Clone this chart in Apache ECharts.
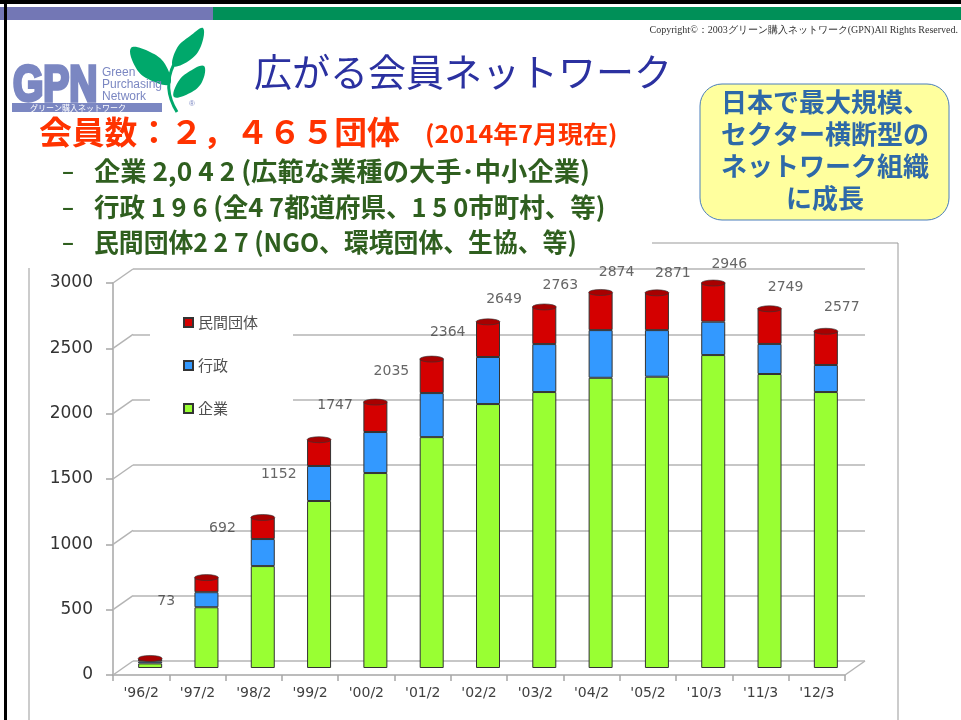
<!DOCTYPE html>
<html>
<head>
<meta charset="utf-8">
<script src="https://cdn.jsdelivr.net/npm/echarts@6.0.0/dist/echarts.min.js"></script>
<style>
  html, body { margin: 0; padding: 0; background: #ffffff; }
  #main { width: 961px; height: 720px; }
</style>
</head>
<body>
<div id="main"></div>
<script>
// 年度
const categories = ["'96/2", "'97/2", "'98/2", "'99/2", "'00/2", "'01/2", "'02/2", "'03/2", "'04/2", "'05/2", "'10/3", "'11/3", "'12/3"];
// 企業
const companies = [35, 465, 780, 1278, 1492, 1767, 2020, 2112, 2221, 2229, 2395, 2250, 2112];
// 行政
const government = [15, 115, 207, 268, 314, 337, 360, 367, 365, 357, 255, 230, 207];
// 民間団体
const privateGroups = [23, 112, 165, 201, 229, 260, 269, 284, 288, 285, 296, 269, 258];
// 合計（ラベル）
const totals = [73, 692, 1152, 1747, 2035, 2364, 2649, 2763, 2874, 2871, 2946, 2749, 2577];
// 目盛
const yTicks = [0, 500, 1000, 1500, 2000, 2500, 3000];

const CJK = '"Noto Sans CJK JP"';

let chart = echarts.init(document.getElementById('main'));

function txt(text, x, y, font, fill, align) {
  return {
    type: 'text', z: 20,
    style: {
      text: text, x: x, y: y, font: font, fill: fill,
      align: align || 'left', verticalAlign: 'middle',
      textAlign: align || 'left', textVerticalAlign: 'middle'
    }
  };
}

// 横幅を詰めた文字
function txtS(text, x, y, font, fill, sx) {
  return {
    type: 'text', z: 20, x: x, y: y, scaleX: sx,
    style: {
      text: text, x: 0, y: 0, font: font, fill: fill,
      align: 'left', verticalAlign: 'middle',
      textAlign: 'left', textVerticalAlign: 'middle'
    }
  };
}

function leaf(points) {
  return {type: 'polygon', z: 20, shape: {points: points, smooth: 0.4}, style: {fill: '#00a86b'}};
}

let graphics = [
  // 上部の帯
  {type: 'rect', shape: {x: 0, y: 0, width: 961, height: 4}, style: {fill: '#000'}},
  {type: 'rect', shape: {x: 0, y: 7, width: 213, height: 13}, style: {fill: '#7377b5'}},
  {type: 'rect', shape: {x: 213, y: 7, width: 748, height: 13}, style: {fill: '#009058'}},
  {type: 'rect', shape: {x: 4, y: 0, width: 3, height: 720}, style: {fill: '#000'}},
  txt('Copyright©：2003グリーン購入ネットワーク(GPN)All Rights Reserved.', 958, 30, '10px "Liberation Serif"', '#333', 'right'),
  // ロゴ
  {type: 'bezierCurve', z: 20, shape: {x1: 177, y1: 112, cpx1: 162, cpy1: 88, x2: 174, y2: 64}, style: {fill: null, stroke: '#00a86b', lineWidth: 3}},
  leaf([[173, 66], [177, 48], [190, 36], [203, 28], [201, 46], [190, 60]]),
  leaf([[170, 84], [150, 80], [136, 68], [131, 48], [150, 52], [165, 64]]),
  leaf([[174, 97], [178, 82], [190, 71], [204, 66], [202, 82], [190, 93]]),
  {type: 'text', x: 13, y: 87, scaleX: 0.78, z: 20, style: {text: 'GPN', x: 0, y: 0, fontSize: 50, fontWeight: 'bold', fontFamily: 'Liberation Sans', fill: '#7b87c2', stroke: '#7b87c2', lineWidth: 3.5, verticalAlign: 'middle', textVerticalAlign: 'middle'}},
  txt('Green', 102, 73, '12px "Liberation Sans"', '#7b87c2'),
  txt('Purchasing', 102, 85, '12px "Liberation Sans"', '#7b87c2'),
  txt('Network', 102, 97, '12px "Liberation Sans"', '#7b87c2'),
  {type: 'rect', shape: {x: 12, y: 103, width: 150, height: 9}, style: {fill: '#7b87c2'}},
  txt('グリーン購入ネットワーク', 30, 108, '8px ' + CJK, '#fff'),
  txt('®', 189, 104, '8px "Liberation Sans"', '#7b87c2'),
  // タイトル
  txt('広がる会員ネットワーク', 254, 72, '38px ' + CJK, '#2b31a0'),
  {type: 'rect', shape: {x: 30, y: 112, width: 620, height: 152}, style: {fill: '#fff'}, z: 15},
  txtS('会員数：２，４６５団体', 39, 132, 'bold 32px ' + CJK, '#ff3300', 1.025),
  txtS('(2014年7月現在)', 425, 134, 'bold 24px ' + CJK, '#ff3300', 1.04),
  txt('–', 62, 171, 'bold 22px ' + CJK, '#2f5f1f'),
  txt('–', 62, 207, 'bold 22px ' + CJK, '#2f5f1f'),
  txt('–', 62, 242, 'bold 22px ' + CJK, '#2f5f1f'),
  txtS('企業 2,0 4 2 (広範な業種の大手･中小企業)', 94, 171, 'bold 26px ' + CJK, '#2f5f1f', 1.012),
  txtS('行政 1 9 6 (全4 7都道府県、1 5 0市町村、等)', 94, 207, 'bold 26px ' + CJK, '#2f5f1f', 0.98),
  txtS('民間団体2 2 7 (NGO、環境団体、生協、等)', 94, 242, 'bold 26px ' + CJK, '#2f5f1f', 0.955),
  // 右の吹き出し
  {type: 'rect', shape: {x: 700, y: 84, width: 249, height: 136, r: 22}, style: {fill: '#ffff9e', stroke: '#4a7ebb', lineWidth: 1}, z: 15},
  txt('日本で最大規模、', 825, 102, 'bold 26px ' + CJK, '#2e69a8', 'center'),
  txt('セクター横断型の', 825, 134, 'bold 26px ' + CJK, '#2e69a8', 'center'),
  txt('ネットワーク組織', 825, 166, 'bold 26px ' + CJK, '#2e69a8', 'center'),
  txt('に成長', 825, 198, 'bold 26px ' + CJK, '#2e69a8', 'center'),
  // グラフ枠
  {type: 'polyline', shape: {points: [[29, 268], [29, 730]]}, style: {stroke: '#999', lineWidth: 1}},
  {type: 'polyline', shape: {points: [[652, 243], [898, 243], [898, 730]]}, style: {stroke: '#999', lineWidth: 1}}
];

let option = {
  backgroundColor: '#ffffff',
  animation: false,
  graphic: {elements: graphics},
  legend: {
    data: ['民間団体', '行政', '企業'],
    orient: 'vertical',
    left: 150,
    top: 300,
    backgroundColor: '#ffffff',
    padding: [15, 35, 15, 33],
    itemWidth: 9,
    itemHeight: 9,
    itemGap: 28,
    icon: 'rect',
    textStyle: {fontSize: 15, color: '#505050', fontFamily: 'Noto Sans CJK JP'}
  },
  grid: [
    {left: 113, right: 116, top: 283, bottom: 45},   // 手前の軸
    {left: 122, right: 107, top: 276, bottom: 52},   // 円柱
    {left: 133, right: 96, top: 269, bottom: 59},    // 奥の壁
    {left: 138, right: 91, top: 258, bottom: 110}    // 合計ラベル
  ],
  xAxis: [
    {
      gridIndex: 0, type: 'category', data: categories,
      axisLine: {lineStyle: {color: '#a6a6a6', width: 1.5}},
      axisTick: {show: true, length: 6, lineStyle: {color: '#a6a6a6', width: 1.5}},
      axisLabel: {color: '#404040', fontSize: 14, fontFamily: 'DejaVu Sans', margin: 11}
    },
    {gridIndex: 1, type: 'category', data: categories, show: false},
    {gridIndex: 2, type: 'category', data: categories, show: false},
    {gridIndex: 3, type: 'category', data: categories, show: false}
  ],
  yAxis: [
    {
      gridIndex: 0, type: 'value', min: 0, max: 3000, interval: 500,
      axisLine: {show: true, lineStyle: {color: '#a6a6a6', width: 1.5}},
      axisTick: {show: true, length: 7, lineStyle: {color: '#a6a6a6', width: 1.5}},
      axisLabel: {color: '#333', fontSize: 17, fontFamily: 'DejaVu Sans', margin: 20, formatter: v => String(v)},
      splitLine: {show: false}
    },
    {gridIndex: 1, type: 'value', min: 0, max: 3000, show: false},
    {
      gridIndex: 2, type: 'value', min: 0, max: 3000, interval: 500,
      axisLine: {show: false}, axisTick: {show: false}, axisLabel: {show: false},
      splitLine: {show: true, lineStyle: {color: '#b4b4b4', width: 1.5}}
    },
    {gridIndex: 3, type: 'value', min: 0, max: 3000, show: false}
  ],
  series: [
    {
      name: '企業', type: 'bar', stack: 'total', xAxisIndex: 1, yAxisIndex: 1,
      barWidth: 24, data: companies,
      itemStyle: {color: '#99ff33', borderColor: '#333', borderWidth: 1}
    },
    {
      name: '行政', type: 'bar', stack: 'total', xAxisIndex: 1, yAxisIndex: 1,
      barWidth: 24, data: government,
      itemStyle: {color: '#3399ff', borderColor: '#333', borderWidth: 1}
    },
    {
      name: '民間団体', type: 'bar', stack: 'total', xAxisIndex: 1, yAxisIndex: 1,
      barWidth: 24, data: privateGroups,
      itemStyle: {color: '#d40000', borderColor: '#333', borderWidth: 1}
    },
    {
      // 円柱の上面
      type: 'custom', xAxisIndex: 1, yAxisIndex: 1, silent: true, z: 5,
      data: totals.map((t, i) => [i, t]),
      renderItem: function (params, api) {
        let p = api.coord([api.value(0), api.value(1)]);
        return {
          type: 'circle', x: p[0], y: p[1], scaleY: 0.25,
          shape: {cx: 0, cy: 0, r: 12},
          style: {fill: '#a80000', stroke: '#333', lineWidth: 1}
        };
      }
    },
    {
      // 奥行きの斜線
      type: 'custom', xAxisIndex: 0, yAxisIndex: 0, silent: true, clip: false, z: 1,
      data: yTicks.map(v => [0, v]),
      renderItem: function (params, api) {
        let cs = params.coordSys;
        let y = api.coord([0, api.value(1)])[1];
        let children = [{
          type: 'line',
          shape: {x1: cs.x, y1: y, x2: cs.x + 20, y2: y - 14},
          style: {stroke: '#b4b4b4', lineWidth: 1.5}
        }];
        if (api.value(1) === 0) {
          children.push({
            type: 'line',
            shape: {x1: cs.x + cs.width, y1: y, x2: cs.x + cs.width + 20, y2: y - 14},
            style: {stroke: '#b4b4b4', lineWidth: 1.5}
          });
        }
        return {type: 'group', children: children};
      }
    },
    {
      // 合計ラベル
      type: 'scatter', xAxisIndex: 3, yAxisIndex: 3, symbolSize: 0, silent: true,
      data: totals.map((t, i) => [i, t]),
      label: {
        show: true, position: 'inside',
        formatter: p => p.value[1],
        color: '#404040', fontSize: 14, fontFamily: 'DejaVu Sans'
      }
    }
  ]
};

chart.setOption(option);
</script>
</body>
</html>
